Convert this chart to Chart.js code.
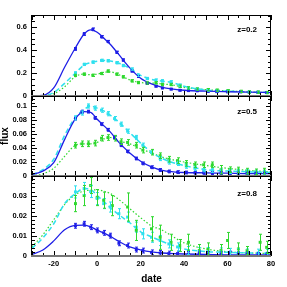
<!DOCTYPE html>
<html>
<head>
<meta charset="utf-8">
<script src="https://cdn.jsdelivr.net/npm/chart.js@4.4.1/dist/chart.umd.min.js"></script>
<style>
  html, body { margin: 0; padding: 0; background: #fff; }
  #wrap { position: relative; width: 287px; height: 287px; overflow: hidden; }
  #wrap canvas { position: absolute; left: 0; }
</style>
</head>
<body>
<div id="wrap">
  <canvas id="p1" width="287" height="100" style="top:0px"></canvas>
  <canvas id="p2" width="287" height="88" style="top:92px"></canvas>
  <canvas id="p3" width="287" height="115" style="top:172px"></canvas>
</div>
<script>
// ---- z = 0.2 ----
const dates02 = [-10, -6, -2, 2, 5, 9, 12, 16, 19, 23, 27, 30, 34, 38, 42, 46, 51, 55, 60, 66, 70, 74, 78];
const blue02 = [0.41, 0.54, 0.58, 0.515, 0.474, 0.38, 0.313, 0.217, 0.17, 0.11, 0.085, 0.07, 0.06, 0.05, 0.047, 0.045, 0.04, 0.038, 0.036, 0.036, 0.032, 0.032, 0.03];
const cyan02 = [0.2, 0.275, 0.295, 0.31, 0.307, 0.29, 0.265, 0.234, 0.18, 0.152, 0.138, 0.132, 0.123, 0.094, 0.07, 0.06, 0.05, 0.045, 0.042, 0.038, 0.035, 0.032, 0.03];
const green02 = [0.179, 0.19, 0.18, 0.196, 0.217, 0.19, 0.167, 0.132, 0.117, 0.113, 0.115, 0.1, 0.1, 0.085, 0.07, 0.06, 0.055, 0.05, 0.045, 0.04, 0.035, 0.033, 0.03];
const blueErr02 = [0.012, 0.012, 0.012, 0.01, 0.01, 0.01, 0.01, 0.008, 0.008, 0.008, 0.006, 0.006, 0.006, 0.006, 0.006, 0.006, 0.006, 0.006, 0.006, 0.006, 0.006, 0.006, 0.006];
const cyanErr02 = [0.01, 0.01, 0.01, 0.01, 0.01, 0.01, 0.01, 0.01, 0.01, 0.01, 0.01, 0.01, 0.01, 0.01, 0.008, 0.008, 0.008, 0.008, 0.008, 0.008, 0.008, 0.008, 0.008];
const greenErr02 = [0.01, 0.01, 0.01, 0.01, 0.01, 0.01, 0.01, 0.01, 0.01, 0.01, 0.01, 0.01, 0.01, 0.01, 0.01, 0.01, 0.01, 0.01, 0.01, 0.01, 0.01, 0.01, 0.01];

// ---- z = 0.5 ----
const dates05 = [-10, -7, -4, -1, 2, 5, 8, 11, 14, 18, 21, 25, 29, 33, 37, 41, 45, 49, 53, 57, 61, 65, 69, 73, 77];
const blue05 = [0.082, 0.092, 0.092, 0.083, 0.074, 0.066, 0.055, 0.044, 0.035, 0.025, 0.018, 0.0125, 0.0086, 0.0065, 0.0055, 0.005, 0.0047, 0.0045, 0.004, 0.004, 0.0038, 0.0036, 0.0035, 0.0035, 0.0035];
const cyan05 = [0.083, 0.09, 0.1, 0.097, 0.094, 0.089, 0.082, 0.074, 0.064, 0.055, 0.044, 0.034, 0.025, 0.02, 0.018, 0.014, 0.011, 0.009, 0.008, 0.007, 0.0065, 0.006, 0.006, 0.0055, 0.005];
const green05 = [0.044, 0.046, 0.046, 0.047, 0.054, 0.055, 0.054, 0.049, 0.048, 0.044, 0.037, 0.034, 0.029, 0.024, 0.022, 0.018, 0.016, 0.016, 0.016, 0.009, 0.009, 0.0086, 0.007, 0.006, 0.007];
const blueErr05 = [0.002, 0.002, 0.002, 0.002, 0.002, 0.002, 0.002, 0.002, 0.002, 0.002, 0.002, 0.002, 0.002, 0.002, 0.002, 0.002, 0.002, 0.002, 0.002, 0.002, 0.002, 0.002, 0.002, 0.002, 0.002];
const cyanErr05 = [0.003, 0.003, 0.003, 0.003, 0.003, 0.003, 0.003, 0.003, 0.003, 0.003, 0.003, 0.003, 0.003, 0.003, 0.003, 0.003, 0.003, 0.003, 0.003, 0.003, 0.003, 0.003, 0.003, 0.003, 0.003];
const greenErr05 = [0.004, 0.004, 0.004, 0.004, 0.004, 0.004, 0.004, 0.004, 0.004, 0.004, 0.004, 0.004, 0.004, 0.004, 0.004, 0.004, 0.004, 0.004, 0.004, 0.006, 0.004, 0.004, 0.004, 0.004, 0.004];

// ---- z = 0.8 ----
const dates08 = [-10, -6, -3, 0, 3, 6, 10, 14, 18, 21, 25, 29, 33, 37, 42, 47, 51, 57, 61, 65, 69, 74, 78];
const blue08 = [0.015, 0.016, 0.0143, 0.0127, 0.0115, 0.0101, 0.0063, 0.0052, 0.0032, 0.0027, 0.0018, 0.0015, 0.0012, 0.0012, 0.001, 0.0012, 0.001, 0.0008, 0.0012, 0.0008, 0.0008, 0.0006, 0.0006];
const cyan08 = [0.0318, 0.0335, 0.032, 0.0285, 0.026, 0.0243, 0.021, 0.0193, 0.0143, 0.011, 0.0093, 0.0077, 0.006, 0.0045, 0.0027, 0.0022, 0.0022, 0.002, 0.0018, 0.0016, 0.0015, 0.0014, 0.0013];
const blueErr08 = [0.0012, 0.0012, 0.0012, 0.0012, 0.0012, 0.0012, 0.0012, 0.0012, 0.0012, 0.0012, 0.0012, 0.0012, 0.0012, 0.0012, 0.0012, 0.0012, 0.0012, 0.0012, 0.0012, 0.0012, 0.0012, 0.0012, 0.0012];
const cyanErr08 = [0.003, 0.003, 0.003, 0.003, 0.0025, 0.0025, 0.0025, 0.0025, 0.0025, 0.0025, 0.0025, 0.0025, 0.002, 0.002, 0.002, 0.002, 0.002, 0.002, 0.002, 0.002, 0.002, 0.002, 0.002];
const greenDates08 = [-10, -6, -3, 0, 3, 7, 14, 18, 25, 29, 34, 38, 42, 47, 51, 57, 60, 65, 69, 75, 78];
const green08 = [0.026, 0.03, 0.035, 0.029, 0.0277, 0.025, 0.0243, 0.0127, 0.0135, 0.0093, 0.0068, 0.0052, 0.0068, 0.0027, 0.0035, 0.0027, 0.0077, 0.0035, 0.0027, 0.0068, 0.0043];
const greenErr08 = [0.004, 0.005, 0.004, 0.004, 0.004, 0.005, 0.007, 0.005, 0.006, 0.006, 0.004, 0.003, 0.004, 0.003, 0.003, 0.003, 0.004, 0.003, 0.002, 0.004, 0.003];

// ---- model curves ----
const curveDates = [-30, -25, -20, -15, -10, -6, -3, 0, 3, 6, 10, 15, 20, 25, 30, 35, 40, 50, 60, 70, 80];
const blueCurve02 = [0, 0.005, 0.07, 0.25, 0.42, 0.54, 0.575, 0.555, 0.505, 0.45, 0.36, 0.245, 0.155, 0.105, 0.075, 0.06, 0.05, 0.042, 0.037, 0.033, 0.03];
const cyanCurve02 = [0, 0.002, 0.03, 0.11, 0.2, 0.27, 0.29, 0.302, 0.31, 0.305, 0.285, 0.24, 0.18, 0.145, 0.13, 0.115, 0.085, 0.052, 0.042, 0.035, 0.03];
const greenCurve02 = [0, 0.003, 0.02, 0.08, 0.17, 0.19, 0.185, 0.19, 0.205, 0.21, 0.185, 0.14, 0.117, 0.113, 0.105, 0.095, 0.075, 0.055, 0.045, 0.035, 0.03];
const blueCurve05 = [0.002, 0.007, 0.019, 0.052, 0.082, 0.092, 0.091, 0.081, 0.072, 0.063, 0.048, 0.033, 0.021, 0.013, 0.008, 0.006, 0.005, 0.0045, 0.004, 0.0035, 0.0035];
const cyanCurve05 = [0.002, 0.009, 0.024, 0.058, 0.084, 0.095, 0.1, 0.097, 0.093, 0.087, 0.077, 0.062, 0.047, 0.034, 0.025, 0.019, 0.015, 0.009, 0.007, 0.006, 0.005];
const greenCurve05 = [0.0005, 0.003, 0.011, 0.028, 0.044, 0.046, 0.046, 0.048, 0.053, 0.055, 0.05, 0.046, 0.039, 0.033, 0.027, 0.023, 0.02, 0.015, 0.011, 0.008, 0.006];
const blueCurve08 = [0.0008, 0.003, 0.0075, 0.013, 0.0152, 0.0153, 0.0145, 0.0128, 0.0115, 0.0098, 0.0072, 0.0045, 0.003, 0.002, 0.0015, 0.0012, 0.001, 0.0008, 0.0006, 0.0005, 0.0005];
const cyanCurve08 = [0.0038, 0.009, 0.016, 0.026, 0.031, 0.0335, 0.033, 0.03, 0.027, 0.024, 0.0205, 0.0165, 0.012, 0.0095, 0.0072, 0.0052, 0.0035, 0.0022, 0.0018, 0.0015, 0.0013];
const greenCurve08 = [0.0046, 0.0105, 0.018, 0.0255, 0.0305, 0.0322, 0.0327, 0.0328, 0.0322, 0.031, 0.028, 0.0235, 0.019, 0.015, 0.0128, 0.0095, 0.0065, 0.0035, 0.0021, 0.0015, 0.0013];

const BLUE = '#1e1ee6';
const CYAN = '#2fe0ee';
const GREEN = '#2ed82e';
const FONT = '"Liberation Sans", Arial, sans-serif';

function pts(xs, ys) {
    return xs.map((x, i) => ({ x: x, y: ys[i] }));
}

// frame, inward ticks, zero line, error bars and panel label
const framePlugin = {
    id: 'frame',
    afterDatasetsDraw(chart) {
        const ctx = chart.ctx, a = chart.chartArea;
        const xs = chart.scales.x, ys = chart.scales.y;
        ctx.save();
        ctx.beginPath();
        ctx.rect(a.left, a.top, a.right - a.left, a.bottom - a.top);
        ctx.clip();
        chart.data.datasets.forEach(ds => {
            if (!ds.errs) return;
            ctx.strokeStyle = ds.borderColor;
            ctx.lineWidth = 1;
            ds.data.forEach((p, i) => {
                const x = Math.round(xs.getPixelForValue(p.x)) + 0.5;
                const y1 = ys.getPixelForValue(p.y - ds.errs[i]);
                const y2 = ys.getPixelForValue(p.y + ds.errs[i]);
                ctx.beginPath();
                ctx.moveTo(x, y1); ctx.lineTo(x, y2);
                ctx.moveTo(x - 1.5, y1); ctx.lineTo(x + 1.5, y1);
                ctx.moveTo(x - 1.5, y2); ctx.lineTo(x + 1.5, y2);
                ctx.stroke();
            });
        });
        ctx.restore();
    },
    afterDraw(chart, args, opts) {
        const ctx = chart.ctx, a = chart.chartArea;
        const xs = chart.scales.x, ys = chart.scales.y;
        ctx.save();
        ctx.strokeStyle = '#000';
        ctx.lineWidth = 1;
        ctx.strokeRect(a.left - 0.5, a.top + 0.5, a.right - a.left, a.bottom - a.top);

        ctx.beginPath();
        // y ticks, left and right
        for (let i = 0; i * opts.yMinor <= ys.max + 1e-9; i++) {
            const v = i * opts.yMinor;
            const r = v / opts.yMajor;
            const len = Math.abs(r - Math.round(r)) < 1e-6 ? 5 : 3;
            const y = Math.round(ys.getPixelForValue(v)) + 0.5;
            ctx.moveTo(a.left, y); ctx.lineTo(a.left + len, y);
            ctx.moveTo(a.right, y); ctx.lineTo(a.right - len, y);
        }
        // x ticks, top and bottom
        for (let v = -30; v <= 80; v += 5) {
            const len = v % 10 === 0 ? 5 : 3;
            const x = Math.round(xs.getPixelForValue(v)) + 0.5;
            ctx.moveTo(x, a.top); ctx.lineTo(x, a.top + len);
            ctx.moveTo(x, a.bottom); ctx.lineTo(x, a.bottom - len);
        }
        ctx.stroke();

        // grey zero line
        const y0 = ys.getPixelForValue(0);
        ctx.strokeStyle = '#777';
        ctx.lineWidth = 2;
        ctx.beginPath();
        ctx.moveTo(a.left - 1, y0); ctx.lineTo(a.right, y0);
        ctx.stroke();

        ctx.fillStyle = '#000';
        ctx.font = 'bold 8px ' + FONT;
        ctx.textAlign = 'right';
        ctx.textBaseline = 'middle';
        ctx.fillText(opts.label, a.right - 14, a.top + opts.labelDy);
        ctx.restore();
    }
};

function makePanel(id, cfg) {
    const datasets = [];
    cfg.points.forEach(s => {
        datasets.push({
            data: pts(s.dates, s.values),
            errs: s.errs,
            borderColor: s.color,
            backgroundColor: s.color,
            pointStyle: 'rect',
            pointRadius: 2.1,
            pointBorderWidth: 0,
            showLine: false
        });
    });
    cfg.curves.forEach(s => {
        datasets.push({
            data: pts(curveDates, s.values),
            borderColor: s.color,
            borderWidth: s.width,
            borderDash: s.dash,
            pointRadius: 0,
            showLine: true,
            fill: false,
            cubicInterpolationMode: 'monotone'
        });
    });

    return new Chart(document.getElementById(id), {
        type: 'scatter',
        data: { datasets: datasets },
        plugins: [framePlugin],
        options: {
            responsive: false,
            animation: false,
            devicePixelRatio: 1,
            layout: { padding: cfg.padding },
            plugins: {
                legend: { display: false },
                tooltip: { enabled: false },
                frame: { label: cfg.label, yMinor: cfg.yMinor, yMajor: cfg.yMajor, labelDy: cfg.labelDy }
            },
            scales: {
                x: {
                    type: 'linear',
                    min: -30,
                    max: 80,
                    display: cfg.showX,
                    grid: { display: false, drawTicks: false },
                    border: { display: false },
                    ticks: {
                        stepSize: 20,
                        padding: 3,
                        color: '#000',
                        font: { family: FONT, size: 7.5, weight: 'bold' },
                        callback: v => (v % 20 === 0 ? String(v) : '')
                    },
                    title: {
                        display: cfg.showX,
                        text: 'date',
                        color: '#000',
                        font: { family: FONT, size: 10, weight: 'bold' },
                        padding: { top: 0, bottom: 2 }
                    },
                    afterFit: s => {
                        s.height = cfg.showX ? 31 : 0;
                        s.paddingLeft = 0;
                        s.paddingRight = 0;
                    }
                },
                y: {
                    type: 'linear',
                    min: 0,
                    max: cfg.yMax,
                    grid: { display: false, drawTicks: false },
                    border: { display: false },
                    ticks: {
                        stepSize: cfg.yMajor,
                        padding: 5,
                        autoSkip: false,
                        color: '#000',
                        font: { family: FONT, size: 7.5, weight: 'bold' },
                        callback: v => {
                            const r = v / cfg.yMajor;
                            return Math.abs(r - Math.round(r)) < 1e-6 ? String(Number(v.toFixed(4))) : '';
                        }
                    },
                    title: {
                        display: !!cfg.yTitle,
                        text: cfg.yTitle || '',
                        color: '#000',
                        font: { family: FONT, size: 10, weight: 'bold', lineHeight: 1 },
                        padding: 0
                    },
                    afterFit: s => {
                        s.width = 32;
                        s.paddingTop = 0;
                        s.paddingBottom = 0;
                    }
                }
            }
        }
    });
}

makePanel('p1', {
    label: 'z=0.2', labelDy: 15, yMax: 0.705, yMajor: 0.2, yMinor: 0.05,
    padding: { top: 15, bottom: 4, right: 16, left: 0 }, showX: false,
    points: [
        { dates: dates02, values: blue02, errs: blueErr02, color: BLUE },
        { dates: dates02, values: cyan02, errs: cyanErr02, color: CYAN },
        { dates: dates02, values: green02, errs: greenErr02, color: GREEN }
    ],
    curves: [
        { values: blueCurve02, color: BLUE, width: 1.3, dash: [] },
        { values: cyanCurve02, color: CYAN, width: 1.5, dash: [5, 3] },
        { values: greenCurve02, color: GREEN, width: 1.2, dash: [1.5, 2] }
    ]
});

makePanel('p2', {
    label: 'z=0.5', labelDy: 16, yMax: 0.1143, yMajor: 0.02, yMinor: 0.005, yTitle: 'flux',
    padding: { top: 4, bottom: 4, right: 16, left: 0 }, showX: false,
    points: [
        { dates: dates05, values: blue05, errs: blueErr05, color: BLUE },
        { dates: dates05, values: cyan05, errs: cyanErr05, color: CYAN },
        { dates: dates05, values: green05, errs: greenErr05, color: GREEN }
    ],
    curves: [
        { values: blueCurve05, color: BLUE, width: 1.3, dash: [] },
        { values: cyanCurve05, color: CYAN, width: 1.5, dash: [5, 3] },
        { values: greenCurve05, color: GREEN, width: 1.2, dash: [1.5, 2] }
    ]
});

makePanel('p3', {
    label: 'z=0.8', labelDy: 18, yMax: 0.0397, yMajor: 0.01, yMinor: 0.002,
    padding: { top: 4, bottom: 0, right: 16, left: 0 }, showX: true,
    points: [
        { dates: dates08, values: blue08, errs: blueErr08, color: BLUE },
        { dates: dates08, values: cyan08, errs: cyanErr08, color: CYAN },
        { dates: greenDates08, values: green08, errs: greenErr08, color: GREEN }
    ],
    curves: [
        { values: blueCurve08, color: BLUE, width: 1.3, dash: [] },
        { values: cyanCurve08, color: CYAN, width: 1.5, dash: [5, 3] },
        { values: greenCurve08, color: GREEN, width: 1.2, dash: [1.5, 2] }
    ]
});
</script>
</body>
</html>
